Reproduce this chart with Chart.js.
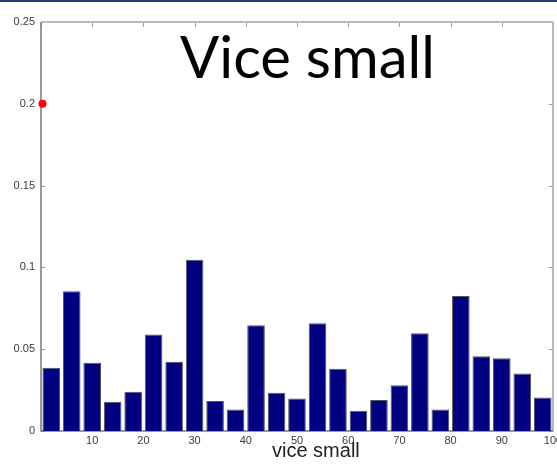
<!DOCTYPE html>
<html>
<head>
<meta charset="utf-8">
<script src="https://cdn.jsdelivr.net/npm/chart.js@4"></script>
<style>
  html,body{ margin:0; padding:0; background:#fff; }
  .wrap{ position:relative; width:557px; height:468px; overflow:hidden; }
  .topband{ position:absolute; left:0; top:0; width:557px; height:2px; background:#1d3f6b; }
  .title{ position:absolute; left:180px; top:27px; font-family:Lato, "Open Sans", sans-serif; font-size:58px; line-height:1; color:#000; white-space:nowrap; }
  .xlabel{ position:absolute; left:272px; top:440px; font-family:"Liberation Sans", Arial, sans-serif; font-size:20px; line-height:1; color:#222; white-space:nowrap; }
  canvas{ position:absolute; left:0; top:0; }
</style>
</head>
<body>
<div class="wrap">
  <canvas id="c" width="557" height="468"></canvas>
  <div class="topband"></div>
  <div class="title">Vice small</div>
  <div class="xlabel">vice small</div>
</div>
<script>
// data
const barX = [2, 6, 10, 14, 18, 22, 26, 30, 34, 38, 42, 46, 50, 54, 58, 62, 66, 70, 74, 78, 82, 86, 90, 94, 98];
const barY = [0.0386, 0.0854, 0.0417, 0.0179, 0.0240, 0.0590, 0.0423, 0.1047, 0.0183, 0.0132, 0.0646, 0.0234, 0.0199,
              0.0659, 0.0380, 0.0124, 0.0189, 0.0279, 0.0598, 0.0132, 0.0825, 0.0457, 0.0445, 0.0352, 0.0205];
const markX = [0.3];
const markY = [0.2];
const xTicks = [0, 10, 20, 30, 40, 50, 60, 70, 80, 90, 100];
const yTicks = [0, 0.05, 0.1, 0.15, 0.2, 0.25];

// box around the plot with inward ticks (MATLAB look)
const frame = {
  id: 'frame',
  beforeDatasetsDraw(chart){
    const {ctx, chartArea:a, scales:{x, y}} = chart;
    ctx.save();
    ctx.lineWidth = 1;
    ctx.strokeStyle = '#9a9a9a';
    ctx.beginPath();
    xTicks.forEach(v => {
      const px = Math.round(x.getPixelForValue(v)) + 0.5;
      ctx.moveTo(px, a.top); ctx.lineTo(px, a.top + 5);
    });
    yTicks.forEach(v => {
      const py = Math.round(y.getPixelForValue(v)) + 0.5;
      ctx.moveTo(a.left, py); ctx.lineTo(a.left + 4, py);
      ctx.moveTo(a.right, py); ctx.lineTo(a.right - 4, py);
    });
    ctx.stroke();
    ctx.strokeStyle = '#b8b8b8';
    ctx.lineWidth = 2;
    ctx.beginPath();
    ctx.moveTo(a.left, a.top); ctx.lineTo(a.right, a.top);
    ctx.moveTo(a.right, a.top); ctx.lineTo(a.right, a.bottom);
    ctx.stroke();
    ctx.strokeStyle = '#7a7a7a';
    ctx.lineWidth = 1.5;
    ctx.beginPath();
    ctx.moveTo(a.left, a.top); ctx.lineTo(a.left, a.bottom);
    ctx.lineTo(a.right, a.bottom);
    ctx.stroke();
    ctx.restore();
  }
};

new Chart(document.getElementById('c'), {
  type: 'bar',
  data: {
    datasets: [
      {
        type: 'scatter',
        data: markX.map((v, i) => ({x: v, y: markY[i]})),
        backgroundColor: '#ff0000',
        borderWidth: 0,
        pointRadius: 4,
        clip: false
      },
      {
        type: 'bar',
        data: barX.map((v, i) => ({x: v, y: barY[i]})),
        backgroundColor: '#000080',
        borderColor: '#555',
        borderWidth: 1,
        barPercentage: 0.86,
        categoryPercentage: 1
      }
    ]
  },
  options: {
    responsive: false,
    animation: false,
    layout: { padding: { top: 22, right: 1, left: 0, bottom: 0 } },
    plugins: { legend: { display: false }, tooltip: { enabled: false } },
    scales: {
      x: {
        type: 'linear', min: 0, max: 100, offset: false,
        afterBuildTicks: s => { s.ticks = xTicks.map(v => ({value: v})); },
        afterFit: s => { s.height = 37; s.paddingLeft = 0; s.paddingRight = 0; },
        grid: { display: false, drawTicks: false },
        border: { display: false },
        ticks: {
          padding: 3, maxRotation: 0, autoSkip: false, color: '#3a3a3a',
          font: { family: '"Liberation Sans", Arial, sans-serif', size: 11 },
          callback: v => v === 0 ? '' : String(v)
        }
      },
      y: {
        type: 'linear', min: 0, max: 0.25,
        afterBuildTicks: s => { s.ticks = yTicks.map(v => ({value: v})); },
        afterFit: s => { s.width = 41; s.paddingTop = 0; s.paddingBottom = 0; },
        grid: { display: false, drawTicks: false },
        border: { display: false },
        ticks: {
          padding: 6, color: '#3a3a3a',
          font: { family: '"Liberation Sans", Arial, sans-serif', size: 11 },
          callback: v => String(+v.toFixed(2))
        }
      }
    }
  },
  plugins: [frame]
});
</script>
</body>
</html>
